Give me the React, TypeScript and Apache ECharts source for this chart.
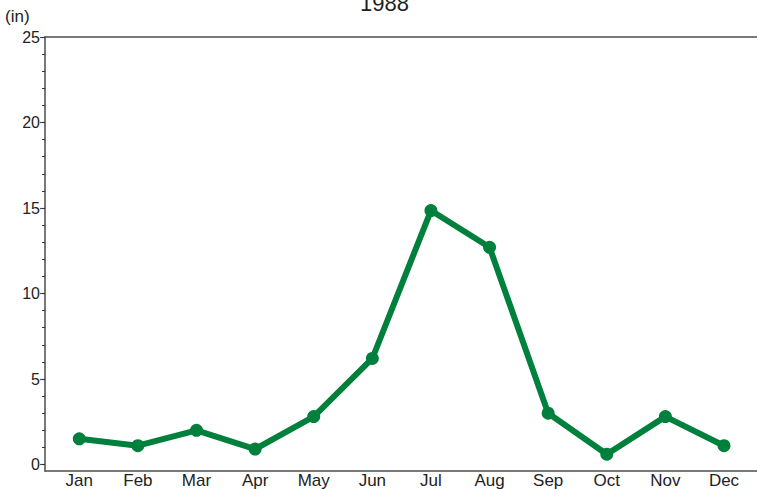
import React, { useEffect, useRef } from "react";
import * as echarts from "echarts";

const months = ["Jan", "Feb", "Mar", "Apr", "May", "Jun", "Jul", "Aug", "Sep", "Oct", "Nov", "Dec"];
const rainfall = [1.5, 1.1, 2.0, 0.9, 2.8, 6.2, 14.85, 12.7, 3.0, 0.6, 2.8, 1.1];
const yMajorTicks = [0, 5, 10, 15, 20, 25];
const yMinorTicks = Array.from({ length: 26 }, (_, i) => i);
const monthPositions = months.map((_, i) => i + 1);
const titleText = "1988";
const unitText = "(in)";

export default function App() {
  const ref = useRef<HTMLDivElement>(null);
  useEffect(() => {
    document.body.style.margin = "0";
    document.body.style.overflow = "hidden";
    if (!ref.current) return;
    const chart = echarts.init(ref.current, null, { renderer: "svg" });
    const axisColor = "#4d4d4d";
    const textColor = "#222";
    const font = "Liberation Sans, Arial, Helvetica, sans-serif";
    const xMin = 0.415;
    const xMax = 12.563;
    chart.setOption({
      animation: false,
      backgroundColor: "#fff",
      title: {
        text: titleText,
        left: 360,
        top: -8,
        padding: 0,
        textStyle: { fontFamily: font, fontSize: 22, fontWeight: "normal", color: textColor },
      },
      graphic: [
        {
          type: "text",
          left: 5,
          top: 8,
          style: { text: unitText, font: `17px ${font}`, fill: textColor },
        },
      ],
      grid: {
        left: 45,
        right: 0,
        top: 37,
        bottom: 18,
      },
      xAxis: [
        {
          type: "value",
          min: xMin,
          max: xMax,
          position: "bottom",
          splitLine: { show: false },
          axisLine: { show: true, onZero: false, lineStyle: { color: axisColor, width: 1.5 } },
          axisTick: { show: false },
          axisLabel: {
            customValues: monthPositions,
            formatter: (v: number) => months[Math.round(v) - 1] ?? "",
            color: textColor,
            fontFamily: font,
            fontSize: 17,
            lineHeight: 17,
            margin: 0.5,
          },
        },
        {
          type: "value",
          min: xMin,
          max: xMax,
          position: "top",
          splitLine: { show: false },
          axisLine: { show: true, onZero: false, lineStyle: { color: axisColor, width: 1.5 } },
          axisTick: { show: false },
          axisLabel: { show: false },
        },
      ],
      yAxis: [
        {
          type: "value",
          min: -0.38,
          max: 25,
          position: "left",
          splitLine: { show: false },
          axisLine: { show: true, onZero: false, lineStyle: { color: axisColor, width: 1.5 } },
          axisTick: { show: true, customValues: yMajorTicks, length: 5, lineStyle: { color: axisColor, width: 1.2 } },
          axisLabel: {
            customValues: yMajorTicks,
            color: textColor,
            fontFamily: font,
            fontSize: 16,
            margin: 5,
          },
        },
        {
          type: "value",
          min: -0.38,
          max: 25,
          position: "left",
          splitLine: { show: false },
          axisLine: { show: false, onZero: false },
          axisTick: { show: true, customValues: yMinorTicks, length: 3, lineStyle: { color: "#333", width: 1 } },
          axisLabel: { show: false },
        },
      ],
      series: [
        {
          type: "line",
          xAxisIndex: 0,
          yAxisIndex: 0,
          data: rainfall.map((v, i) => [monthPositions[i], v]),
          symbol: "circle",
          symbolSize: 13,
          lineStyle: { color: "#00803c", width: 6 },
          itemStyle: { color: "#00803c" },
        },
      ],
    });
    return () => chart.dispose();
  }, []);
  return <div ref={ref} style={{ width: 757, height: 489, overflow: "hidden" }} />;
}
